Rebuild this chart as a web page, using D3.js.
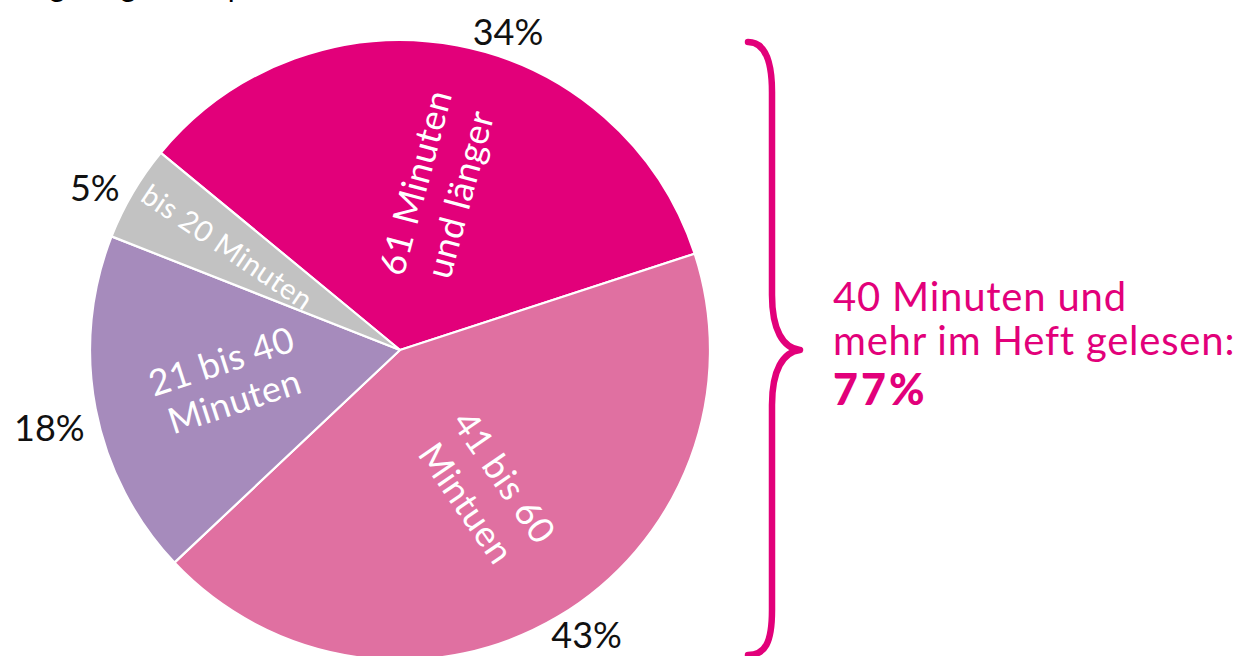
<!DOCTYPE html>
<html>
<head>
<meta charset="utf-8">
<script src="https://cdn.jsdelivr.net/npm/d3@7"></script>
<style>
  html, body { margin: 0; padding: 0; background: #fff; }
  svg { display: block; }
  text { font-family: Lato, "Noto Sans", sans-serif; }
</style>
</head>
<body>
<svg id="chart" width="1238" height="656"></svg>
<script>
// ---- data ----
const categories = ["61 Minuten und länger", "41 bis 60 Mintuen", "21 bis 40 Minuten", "bis 20 Minuten"];
const values = [34, 43, 18, 5];
const percentLabels = ["34%", "43%", "18%", "5%"];
const innerLines = [["61 Minuten", "und länger"], ["41 bis 60", "Mintuen"], ["21 bis 40", "Minuten"], ["bis 20 Minuten"]];
const colors = ["#E2007A", "#E070A1", "#A68BBC", "#C2C2C2"];
const summaryLines = ["40 Minuten und", "mehr im Heft gelesen:"];
const summaryValue = "77%";
const titleText = "Ausgabe gelesen pro Heft";

// ---- layout ----
const W = 1238, H = 656;
const cx = 400, cy = 350, R = 310;
const startDeg = -50.5;
const innerLayout = [ // radius, angle offset (deg), rotation (deg), font size, line gap
  {r: 166, da: 2, rot: -75, fs: 36, gap: 46},
  {r: 164, da: -1, rot: 55.5, fs: 36, gap: 46},
  {r: 175, da: 1, rot: -18, fs: 36, gap: 42},
  {r: 201, da: 0.6, rot: 34, fs: 29, gap: 0}
];
const outerLayout = [ // radius, angle offset (deg)
  {r: 337, da: 8}, {r: 340, da: -2.6}, {r: 359, da: -1.5}, {r: 346, da: -2.4}
];

const svg = d3.select("#chart");
const rad = d => d * Math.PI / 180;

// cut-off title at the very top
svg.append("text").attr("x", 0).attr("y", -3)
  .attr("font-size", 30).attr("fill", "#000").text(titleText);

const pie = d3.pie().sort(null).value(d => d)
  .startAngle(rad(startDeg)).endAngle(rad(startDeg) + 2 * Math.PI);
const arcs = pie(values);
const arc = d3.arc().innerRadius(0).outerRadius(R);

const g = svg.append("g").attr("transform", `translate(${cx},${cy})`);
g.selectAll("path.slice").data(arcs).join("path")
  .attr("class", "slice")
  .attr("d", arc)
  .attr("fill", (d, i) => colors[i])
  .attr("stroke", "#fff").attr("stroke-width", 2.2).attr("stroke-linejoin", "round");

function polar(a, r) { return [Math.sin(a) * r, -Math.cos(a) * r]; }

// inner labels
arcs.forEach((d, i) => {
  const L = innerLayout[i];
  const mid = (d.startAngle + d.endAngle) / 2 + rad(L.da);
  const [x, y] = polar(mid, L.r);
  const tg = g.append("g").attr("transform", `translate(${x},${y}) rotate(${L.rot})`);
  const lines = innerLines[i];
  const n = lines.length;
  lines.forEach((t, j) => {
    tg.append("text")
      .attr("x", 0).attr("y", (j - (n - 1) / 2) * L.gap)
      .attr("text-anchor", "middle").attr("dominant-baseline", "central")
      .attr("font-size", L.fs).attr("font-weight", 400).attr("fill", "#fff")
      .attr("letter-spacing", 0.5)
      .text(t);
  });
});

// outer percentage labels
arcs.forEach((d, i) => {
  const L = outerLayout[i];
  const mid = (d.startAngle + d.endAngle) / 2 + rad(L.da);
  const [x, y] = polar(mid, L.r);
  g.append("text").attr("x", x).attr("y", y)
    .attr("text-anchor", "middle").attr("dominant-baseline", "central")
    .attr("font-size", 36).attr("font-weight", 400).attr("fill", "#111")
    .text(percentLabels[i]);
});

// brace
const bx = 772, tipX = 800, tipY = 350, topY = 42, botY = 655, endX = 748;
const p = d3.path();
p.moveTo(endX, topY);
p.bezierCurveTo(765, topY, bx, topY + 18, bx, topY + 50);
p.lineTo(bx, tipY - 55);
p.bezierCurveTo(bx, tipY - 20, 783, tipY - 2, tipX, tipY);
p.bezierCurveTo(783, tipY + 2, bx, tipY + 20, bx, tipY + 55);
p.lineTo(bx, botY - 45);
p.bezierCurveTo(bx, botY - 12, 765, botY, endX, botY);
svg.append("path").attr("d", p.toString())
  .attr("fill", "none").attr("stroke", "#E2007A").attr("stroke-width", 6.5)
  .attr("stroke-linecap", "round").attr("stroke-linejoin", "round");

// summary text
const sx = 833;
const baselines = [311, 355];
summaryLines.forEach((t, i) => {
  svg.append("text").attr("x", sx).attr("y", baselines[i])
    .attr("font-size", 40).attr("font-weight", 400).attr("letter-spacing", 0.8)
    .attr("fill", "#E2007A").text(t);
});
svg.append("text").attr("x", sx).attr("y", 405)
  .attr("font-size", 43).attr("font-weight", 900).attr("letter-spacing", 3)
  .attr("fill", "#E2007A").text(summaryValue);
</script>
</body>
</html>
